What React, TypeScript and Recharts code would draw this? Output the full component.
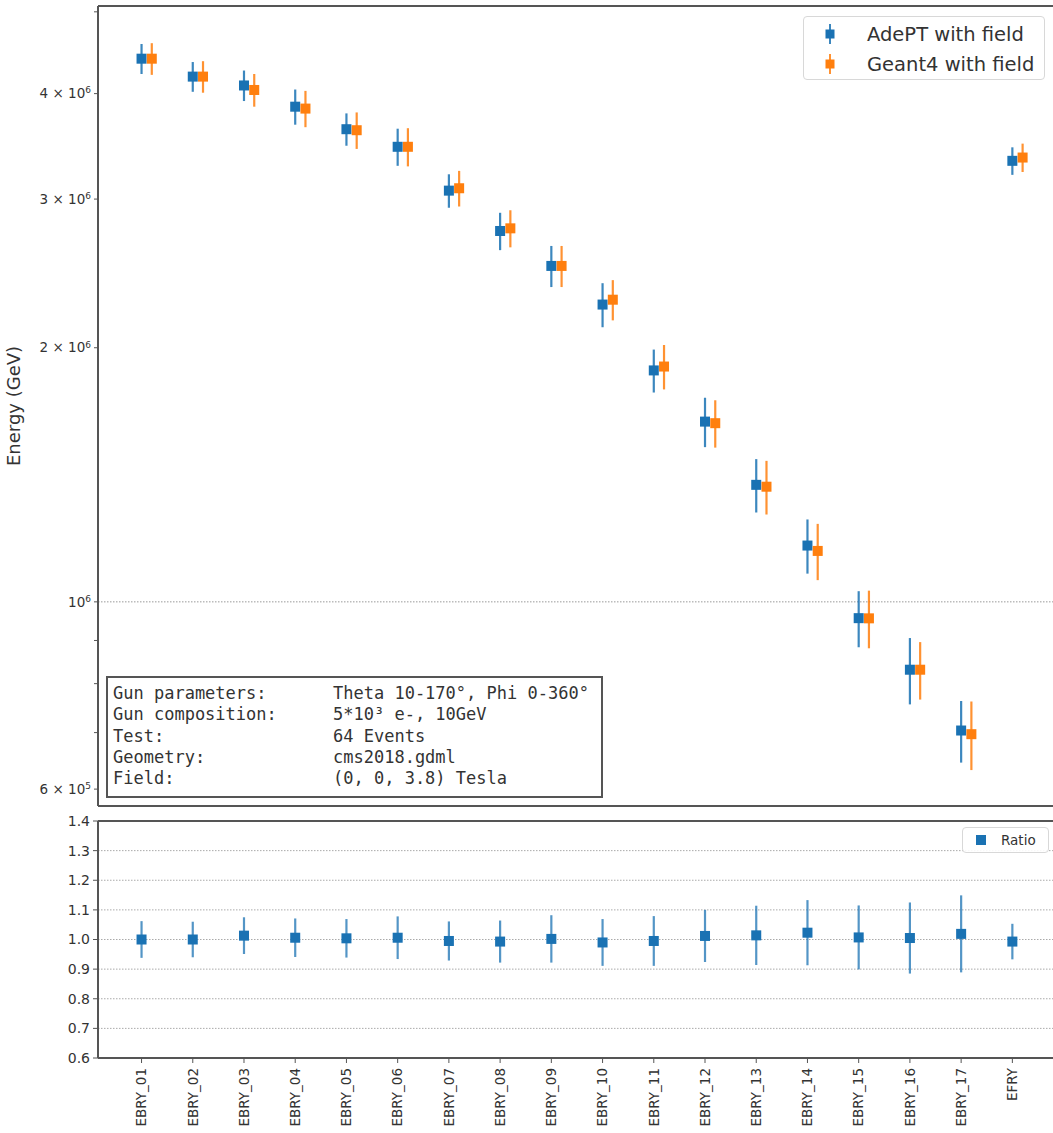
import React from 'react';
import { ScatterChart, Scatter, XAxis, YAxis, ErrorBar, ReferenceLine, CartesianGrid, Legend } from 'recharts';

const categories = ['EBRY_01','EBRY_02','EBRY_03','EBRY_04','EBRY_05','EBRY_06','EBRY_07','EBRY_08','EBRY_09','EBRY_10','EBRY_11','EBRY_12','EBRY_13','EBRY_14','EBRY_15','EBRY_16','EBRY_17','EFRY'];

const adeptEnergy = [4.40e6, 4.19e6, 4.09e6, 3.86e6, 3.63e6, 3.46e6, 3.07e6, 2.75e6, 2.50e6, 2.25e6, 1.88e6, 1.635e6, 1.376e6, 1.166e6, 0.9565e6, 0.831e6, 0.704e6, 3.33e6];
const adeptErr = [0.18e6, 0.17e6, 0.17e6, 0.185e6, 0.16e6, 0.175e6, 0.14e6, 0.14e6, 0.14e6, 0.135e6, 0.11e6, 0.11e6, 0.10e6, 0.086e6, 0.073e6, 0.075e6, 0.059e6, 0.125e6];
const geant4Energy = [4.40e6, 4.19e6, 4.04e6, 3.84e6, 3.62e6, 3.46e6, 3.09e6, 2.77e6, 2.50e6, 2.28e6, 1.90e6, 1.628e6, 1.369e6, 1.149e6, 0.956e6, 0.831e6, 0.697e6, 3.36e6];
const geant4Err = [0.19e6, 0.18e6, 0.18e6, 0.19e6, 0.18e6, 0.18e6, 0.15e6, 0.14e6, 0.14e6, 0.125e6, 0.115e6, 0.105e6, 0.10e6, 0.088e6, 0.075e6, 0.065e6, 0.065e6, 0.13e6];

const ratioValues = [1.0, 1.0, 1.013, 1.006, 1.004, 1.006, 0.995, 0.993, 1.002, 0.99, 0.995, 1.012, 1.014, 1.023, 1.007, 1.005, 1.019, 0.993];
const ratioErr = [0.062, 0.06, 0.062, 0.065, 0.065, 0.072, 0.066, 0.071, 0.08, 0.079, 0.084, 0.088, 0.10, 0.11, 0.108, 0.12, 0.13, 0.06];

const energyTicks = [6e5, 7e5, 8e5, 9e5, 1e6, 2e6, 3e6, 4e6, 5e6];
const energyLabelled = [6e5, 1e6, 2e6, 3e6, 4e6];
const energyDomain = [5.73e5, 5.08e6];
const ratioTicks = [0.6, 0.7, 0.8, 0.9, 1.0, 1.1, 1.2, 1.3, 1.4];
const ratioDomain = [0.6, 1.4];
const xDomain = [-0.85, 17.93];
const geantOffset = 0.2;

const infoLines = [
  ['Gun parameters:', 'Theta 10-170°, Phi 0-360°'],
  ['Gun composition:', '5*10³ e-, 10GeV'],
  ['Test:', '64 Events'],
  ['Geometry:', 'cms2018.gdml'],
  ['Field:', '(0, 0, 3.8) Tesla'],
];

const BLUE = '#1a72b3';
const ORANGE = '#ff7f0e';
const AXIS = '#555';
const TEXT = '#333';
const FONT = '"DejaVu Sans", sans-serif';
const CHART_W = 1060;

const adeptData = categories.map((c, i) => ({ x: i, y: adeptEnergy[i], err: adeptErr[i], name: c }));
const geantData = categories.map((c, i) => ({ x: i + geantOffset, y: geant4Energy[i], err: geant4Err[i], name: c }));
const ratioData = categories.map((c, i) => ({ x: i, y: ratioValues[i], err: ratioErr[i], name: c }));
const catIndices = categories.map((_, i) => i);
const topXTicks = categories.map((_, i) => i + 0.5);

const squareShape = (color: string) => (props: any) => {
  const { cx, cy } = props;
  if (cx == null || cy == null) return <g />;
  return <rect x={cx - 5} y={cy - 5} width={10} height={10} fill={color} />;
};

const EnergyTick = (props: any) => {
  const { x, y, payload } = props;
  const v = payload.value;
  if (!energyLabelled.some((l) => Math.abs(l - v) / l < 1e-6)) return <g />;
  const exp = Math.floor(Math.log10(v) + 1e-9);
  const mant = Math.round(v / Math.pow(10, exp));
  return (
    <text x={x} y={y} textAnchor="end" dy="0.35em" fontSize={13.5} fill={TEXT} fontFamily={FONT}>
      {mant === 1 ? '10' : `${mant} × 10`}
      <tspan dy="-0.55em" fontSize={9}>{exp}</tspan>
    </text>
  );
};

const CatTick = (props: any) => {
  const { x, y, payload } = props;
  return (
    <g transform={`translate(${x},${y + 3}) rotate(-90)`}>
      <text textAnchor="end" dy="0.35em" fontSize={13.5} fill={TEXT} fontFamily={FONT}>
        {categories[payload.value]}
      </text>
    </g>
  );
};

const LegendMarker = ({ color }: { color: string }) => (
  <svg width={12} height={22} style={{ display: 'block' }}>
    <line x1={6} x2={6} y1={1} y2={21} stroke={color} strokeWidth={2} strokeOpacity={0.85} />
    <rect x={1.5} y={6.5} width={9} height={9} fill={color} />
  </svg>
);

const topLegend = () => (
  <div style={{ border: '1px solid #d8d8d8', borderRadius: 4, background: 'rgba(255,255,255,0.9)', width: 242, height: 64, boxSizing: 'border-box', fontFamily: FONT, fontSize: 19.5, color: TEXT }}>
    {[['AdePT with field', BLUE], ['Geant4 with field', ORANGE]].map(([label, color], i) => (
      <div key={i} style={{ display: 'flex', alignItems: 'center', height: 30, marginTop: i === 0 ? 2 : 0 }}>
        <div style={{ width: 20 }} />
        <LegendMarker color={color} />
        <div style={{ width: 31 }} />
        <span>{label}</span>
      </div>
    ))}
  </div>
);

const ratioLegend = () => (
  <div style={{ border: '1px solid #d8d8d8', borderRadius: 4, background: 'rgba(255,255,255,0.9)', width: 87, height: 26, boxSizing: 'border-box', fontFamily: FONT, fontSize: 13.5, color: TEXT, display: 'flex', alignItems: 'center' }}>
    <div style={{ width: 12 }} />
    <svg width={12} height={12} style={{ display: 'block' }}>
      <rect x={1} y={1} width={10} height={10} fill={BLUE} />
    </svg>
    <div style={{ width: 14 }} />
    <span>Ratio</span>
  </div>
);

const TopChart = () => (
  <ScatterChart width={CHART_W} height={812} margin={{ top: 6, right: 0, bottom: 0, left: 0 }}>
    <XAxis type="number" dataKey="x" domain={xDomain} ticks={topXTicks} interval={0} tick={false} tickSize={4} height={6}
      allowDataOverflow axisLine={{ stroke: AXIS, strokeWidth: 2 }} tickLine={{ stroke: AXIS }} />
    <YAxis type="number" dataKey="y" scale="log" domain={energyDomain} ticks={energyTicks} interval={0} allowDataOverflow
      width={98} tickSize={4} tickMargin={3} tick={<EnergyTick />}
      axisLine={{ stroke: AXIS, strokeWidth: 2 }} tickLine={{ stroke: AXIS }}
      label={{ value: 'Energy (GeV)', angle: -90, position: 'insideLeft', offset: 14, style: { textAnchor: 'middle', fontSize: 18, fill: TEXT, fontFamily: FONT } }} />
    <ReferenceLine y={1e6} stroke="#999" strokeDasharray="1.5 1.5" strokeWidth={1} />
    <ReferenceLine y={energyDomain[1]} stroke={AXIS} strokeWidth={2} />
    <Scatter data={adeptData} fill={BLUE} shape={squareShape(BLUE)} isAnimationActive={false}>
      <ErrorBar dataKey="err" direction="y" width={0} stroke={BLUE} strokeWidth={2.2} strokeOpacity={0.85} isAnimationActive={false} />
    </Scatter>
    <Scatter data={geantData} fill={ORANGE} shape={squareShape(ORANGE)} isAnimationActive={false}>
      <ErrorBar dataKey="err" direction="y" width={0} stroke={ORANGE} strokeWidth={2.2} strokeOpacity={0.85} isAnimationActive={false} />
    </Scatter>
    <Legend layout="horizontal" verticalAlign="middle" align="center" content={topLegend}
      wrapperStyle={{ position: 'absolute', left: 803, top: 16, width: 244, height: 66 }} />
  </ScatterChart>
);

const BottomChart = () => (
  <ScatterChart width={CHART_W} height={321} margin={{ top: 9, right: 0, bottom: 0, left: 0 }}>
    <CartesianGrid vertical={false} stroke="#aaa" strokeDasharray="1.5 1.5" />
    <XAxis type="number" dataKey="x" domain={xDomain} ticks={catIndices} interval={0} tick={<CatTick />} tickSize={5} height={75}
      allowDataOverflow axisLine={{ stroke: AXIS, strokeWidth: 2 }} tickLine={{ stroke: AXIS }} />
    <YAxis type="number" dataKey="y" domain={ratioDomain} ticks={ratioTicks} interval={0} allowDataOverflow width={98}
      tickSize={5} tickMargin={3} tickFormatter={(v: number) => v.toFixed(1)}
      tick={{ fontSize: 14, fill: TEXT, fontFamily: FONT }}
      axisLine={{ stroke: AXIS, strokeWidth: 2 }} tickLine={{ stroke: AXIS }} />
    <ReferenceLine y={ratioDomain[1]} stroke={AXIS} strokeWidth={2} />
    <Scatter data={ratioData} fill={BLUE} shape={squareShape(BLUE)} isAnimationActive={false}>
      <ErrorBar dataKey="err" direction="y" width={0} stroke={BLUE} strokeWidth={2.2} strokeOpacity={0.75} isAnimationActive={false} />
    </Scatter>
    <Legend layout="horizontal" verticalAlign="middle" align="center" content={ratioLegend}
      wrapperStyle={{ position: 'absolute', left: 962, top: 15, width: 87, height: 26 }} />
  </ScatterChart>
);

export default function App() {
  return (
    <div style={{ position: 'absolute', left: 0, top: 0, width: 1053, height: 1133, overflow: 'hidden', background: '#fff', fontFamily: FONT }}>
      <div style={{ position: 'absolute', left: 0, top: 0, width: CHART_W, height: 812 }}>
        <TopChart />
      </div>
      <div style={{ position: 'absolute', left: 0, top: 812, width: CHART_W, height: 321 }}>
        <BottomChart />
      </div>
      <div style={{ position: 'absolute', left: 106, top: 676, width: 497, height: 122, boxSizing: 'border-box', border: '2px solid #555', background: '#fff', fontFamily: '"DejaVu Sans Mono", monospace', fontSize: 17, lineHeight: '21.3px', color: TEXT, padding: '5px 0 0 5px' }}>
        {infoLines.map(([k, v], i) => (
          <div key={i} style={{ display: 'flex', whiteSpace: 'pre' }}>
            <span style={{ width: 220, display: 'inline-block' }}>{k}</span>
            <span>{v}</span>
          </div>
        ))}
      </div>
    </div>
  );
}
